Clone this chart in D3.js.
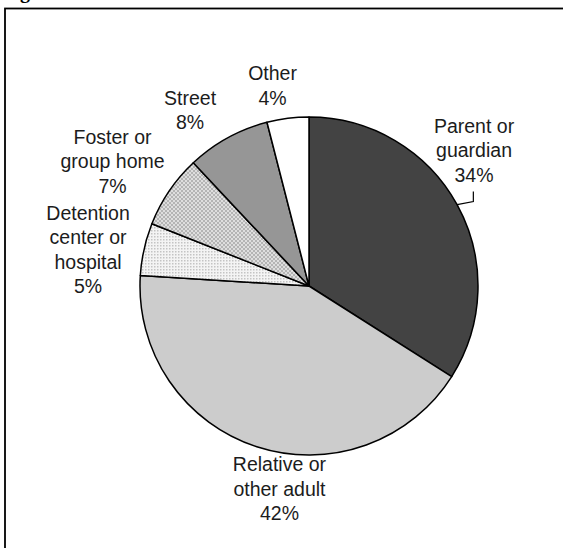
<!DOCTYPE html>
<html>
<head>
<meta charset="utf-8">
<script src="https://cdn.jsdelivr.net/npm/d3@7"></script>
<style>
  html, body { margin: 0; padding: 0; background: #fff; }
  svg { display: block; }
</style>
</head>
<body>
<script>
// slices, clockwise from 12 o'clock
const categories = ["Parent or guardian", "Relative or other adult", "Detention center or hospital", "Foster or group home", "Street", "Other"]
const values = [34, 42, 5, 7, 8, 4]
const labelLines = [
  ["Parent or", "guardian"],
  ["Relative or", "other adult"],
  ["Detention", "center or", "hospital"],
  ["Foster or", "group home"],
  ["Street"],
  ["Other"]
]

const width = 563, height = 548
const cx = 309, cy = 286, r = 169
const labelRadius = 205
const lineH = 24.5

// hand-tuned label nudges (like the moved labels in the original)
const nudges = [[-14.6, -30.2], [33.8, 15], [-20.9, 15.1], [-26.9, -2.5], [-20.2, 10.6], [-10.8, 9.9]]
const fills = ["#434343", "#cccccc", "url(#dots)", "url(#checks)", "#969696", "#ffffff"]

const svg = d3.select("body").append("svg")
  .attr("width", width)
  .attr("height", height)

const defs = svg.append("defs")

// dotted pattern (detention)
const dots = defs.append("pattern")
  .attr("id", "dots")
  .attr("patternUnits", "userSpaceOnUse")
  .attr("width", 3).attr("height", 3)
dots.append("rect").attr("width", 3).attr("height", 3).attr("fill", "#f4f4f4")
dots.append("rect").attr("x", 1).attr("y", 1).attr("width", 1.5).attr("height", 1.5).attr("fill", "#c4c4c4")

// checker pattern (foster)
const checks = defs.append("pattern")
  .attr("id", "checks")
  .attr("patternUnits", "userSpaceOnUse")
  .attr("width", 4).attr("height", 4)
checks.append("rect").attr("width", 4).attr("height", 4).attr("fill", "#dedede")
checks.append("rect").attr("width", 2).attr("height", 2).attr("fill", "#b4b4b4")
checks.append("rect").attr("x", 2).attr("y", 2).attr("width", 2).attr("height", 2).attr("fill", "#b4b4b4")

// cut-off figure heading at the very top
svg.append("text")
  .attr("x", 20)
  .attr("y", -2)
  .style("font", "bold 20px 'Liberation Serif', serif")
  .attr("fill", "#000")
  .text("g")

// frame (runs off right and bottom edges)
svg.append("rect")
  .attr("x", 5)
  .attr("y", 8.5)
  .attr("width", width + 20)
  .attr("height", height + 20)
  .attr("fill", "none")
  .attr("stroke", "#000")
  .attr("stroke-width", 1.8)

const data = categories.map((c, i) => ({ name: c, value: values[i], lines: labelLines[i] }))

const pie = d3.pie()
  .sort(null)
  .value(d => d.value)

const arcs = pie(data)

const arc = d3.arc().innerRadius(0).outerRadius(r)
const labelArc = d3.arc().innerRadius(labelRadius).outerRadius(labelRadius)
const edgeArc = d3.arc().innerRadius(r).outerRadius(r)

const g = svg.append("g").attr("transform", `translate(${cx},${cy})`)

g.selectAll(".slice")
  .data(arcs)
  .enter().append("path")
    .classed("slice", true)
    .attr("d", arc)
    .attr("fill", (d, i) => fills[i])
    .attr("stroke", "#000")
    .attr("stroke-width", 1.5)
    .attr("stroke-linejoin", "round")

// labels
const labels = g.selectAll(".label")
  .data(arcs)
  .enter().append("text")
    .classed("label", true)
    .attr("text-anchor", "middle")
    .attr("fill", "#1c1c1c")
    .style("font", "19.5px 'Liberation Sans', Arial, sans-serif")

labels.each(function (d, i) {
  const c = labelArc.centroid(d)
  const x = c[0] + nudges[i][0]
  const lines = d.data.lines.concat([d.data.value + "%"])
  const y0 = c[1] + nudges[i][1] - (lines.length - 1) * lineH / 2
  d3.select(this).selectAll("tspan")
    .data(lines)
    .enter().append("tspan")
      .attr("x", x)
      .attr("y", (t, j) => y0 + j * lineH)
      .text(t => t)
})

// leader line for the first slice
const first = arcs[0]
const lc = labelArc.centroid(first)
const lx = lc[0] + nudges[0][0] - 0.7
const lyBottom = lc[1] + nudges[0][1] + lineH + 10
const edge = edgeArc.centroid(first)
g.append("path")
  .attr("d", d3.line()([[lx, lyBottom], [lx, lyBottom + 10], edge]))
  .attr("fill", "none")
  .attr("stroke", "#000")
  .attr("stroke-width", 1.2)
</script>
</body>
</html>
